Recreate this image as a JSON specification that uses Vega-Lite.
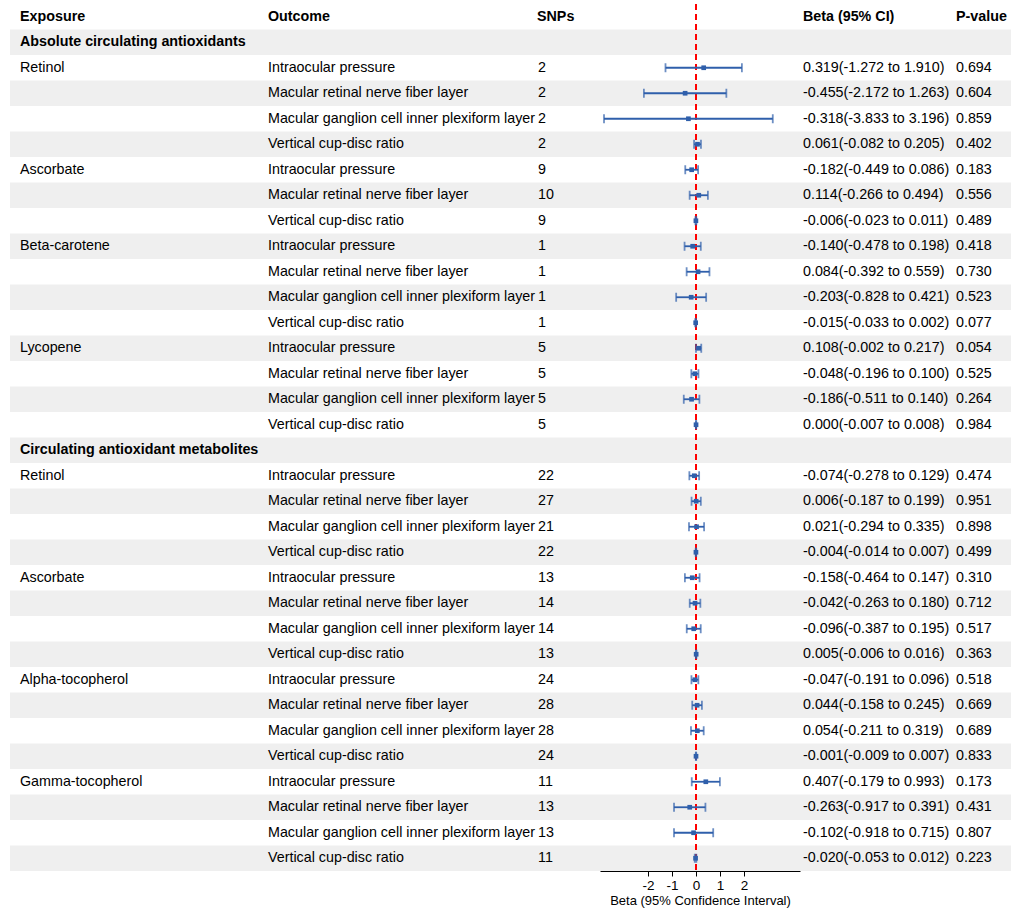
{
  "$schema": "https://vega.github.io/schema/vega-lite/v6.json",
  "padding": {"left": 10, "top": 3, "right": 0, "bottom": 0},
  "bounds": "flush",
  "config": {
    "view": {"stroke": null},
    "concat": {"spacing": 0},
    "font": "Liberation Sans",
    "text": {"fontSize": 14.3, "align": "left", "baseline": "middle", "color": "black"}
  },
  "datasets": {
    "rows": [
      {"i": 0, "b": 1, "e": "Exposure", "o": "Outcome", "n": "SNPs", "c": "Beta (95% CI)", "p": "P-value"},
      {"i": 1, "b": 1, "e": "Absolute circulating antioxidants", "o": "", "n": "", "c": "", "p": ""},
      {"i": 2, "b": 0, "e": "Retinol", "o": "Intraocular pressure", "n": "2", "beta": 0.319, "lo": -1.272, "hi": 1.910, "c": "0.319(-1.272 to 1.910)", "p": "0.694"},
      {"i": 3, "b": 0, "e": "", "o": "Macular retinal nerve fiber layer", "n": "2", "beta": -0.455, "lo": -2.172, "hi": 1.263, "c": "-0.455(-2.172 to 1.263)", "p": "0.604"},
      {"i": 4, "b": 0, "e": "", "o": "Macular ganglion cell inner plexiform layer", "n": "2", "beta": -0.318, "lo": -3.833, "hi": 3.196, "c": "-0.318(-3.833 to 3.196)", "p": "0.859"},
      {"i": 5, "b": 0, "e": "", "o": "Vertical cup-disc ratio", "n": "2", "beta": 0.061, "lo": -0.082, "hi": 0.205, "c": "0.061(-0.082 to 0.205)", "p": "0.402"},
      {"i": 6, "b": 0, "e": "Ascorbate", "o": "Intraocular pressure", "n": "9", "beta": -0.182, "lo": -0.449, "hi": 0.086, "c": "-0.182(-0.449 to 0.086)", "p": "0.183"},
      {"i": 7, "b": 0, "e": "", "o": "Macular retinal nerve fiber layer", "n": "10", "beta": 0.114, "lo": -0.266, "hi": 0.494, "c": "0.114(-0.266 to 0.494)", "p": "0.556"},
      {"i": 8, "b": 0, "e": "", "o": "Vertical cup-disc ratio", "n": "9", "beta": -0.006, "lo": -0.023, "hi": 0.011, "c": "-0.006(-0.023 to 0.011)", "p": "0.489"},
      {"i": 9, "b": 0, "e": "Beta-carotene", "o": "Intraocular pressure", "n": "1", "beta": -0.140, "lo": -0.478, "hi": 0.198, "c": "-0.140(-0.478 to 0.198)", "p": "0.418"},
      {"i": 10, "b": 0, "e": "", "o": "Macular retinal nerve fiber layer", "n": "1", "beta": 0.084, "lo": -0.392, "hi": 0.559, "c": "0.084(-0.392 to 0.559)", "p": "0.730"},
      {"i": 11, "b": 0, "e": "", "o": "Macular ganglion cell inner plexiform layer", "n": "1", "beta": -0.203, "lo": -0.828, "hi": 0.421, "c": "-0.203(-0.828 to 0.421)", "p": "0.523"},
      {"i": 12, "b": 0, "e": "", "o": "Vertical cup-disc ratio", "n": "1", "beta": -0.015, "lo": -0.033, "hi": 0.002, "c": "-0.015(-0.033 to 0.002)", "p": "0.077"},
      {"i": 13, "b": 0, "e": "Lycopene", "o": "Intraocular pressure", "n": "5", "beta": 0.108, "lo": -0.002, "hi": 0.217, "c": "0.108(-0.002 to 0.217)", "p": "0.054"},
      {"i": 14, "b": 0, "e": "", "o": "Macular retinal nerve fiber layer", "n": "5", "beta": -0.048, "lo": -0.196, "hi": 0.100, "c": "-0.048(-0.196 to 0.100)", "p": "0.525"},
      {"i": 15, "b": 0, "e": "", "o": "Macular ganglion cell inner plexiform layer", "n": "5", "beta": -0.186, "lo": -0.511, "hi": 0.140, "c": "-0.186(-0.511 to 0.140)", "p": "0.264"},
      {"i": 16, "b": 0, "e": "", "o": "Vertical cup-disc ratio", "n": "5", "beta": 0.000, "lo": -0.007, "hi": 0.008, "c": "0.000(-0.007 to 0.008)", "p": "0.984"},
      {"i": 17, "b": 1, "e": "Circulating antioxidant metabolites", "o": "", "n": "", "c": "", "p": ""},
      {"i": 18, "b": 0, "e": "Retinol", "o": "Intraocular pressure", "n": "22", "beta": -0.074, "lo": -0.278, "hi": 0.129, "c": "-0.074(-0.278 to 0.129)", "p": "0.474"},
      {"i": 19, "b": 0, "e": "", "o": "Macular retinal nerve fiber layer", "n": "27", "beta": 0.006, "lo": -0.187, "hi": 0.199, "c": "0.006(-0.187 to 0.199)", "p": "0.951"},
      {"i": 20, "b": 0, "e": "", "o": "Macular ganglion cell inner plexiform layer", "n": "21", "beta": 0.021, "lo": -0.294, "hi": 0.335, "c": "0.021(-0.294 to 0.335)", "p": "0.898"},
      {"i": 21, "b": 0, "e": "", "o": "Vertical cup-disc ratio", "n": "22", "beta": -0.004, "lo": -0.014, "hi": 0.007, "c": "-0.004(-0.014 to 0.007)", "p": "0.499"},
      {"i": 22, "b": 0, "e": "Ascorbate", "o": "Intraocular pressure", "n": "13", "beta": -0.158, "lo": -0.464, "hi": 0.147, "c": "-0.158(-0.464 to 0.147)", "p": "0.310"},
      {"i": 23, "b": 0, "e": "", "o": "Macular retinal nerve fiber layer", "n": "14", "beta": -0.042, "lo": -0.263, "hi": 0.180, "c": "-0.042(-0.263 to 0.180)", "p": "0.712"},
      {"i": 24, "b": 0, "e": "", "o": "Macular ganglion cell inner plexiform layer", "n": "14", "beta": -0.096, "lo": -0.387, "hi": 0.195, "c": "-0.096(-0.387 to 0.195)", "p": "0.517"},
      {"i": 25, "b": 0, "e": "", "o": "Vertical cup-disc ratio", "n": "13", "beta": 0.005, "lo": -0.006, "hi": 0.016, "c": "0.005(-0.006 to 0.016)", "p": "0.363"},
      {"i": 26, "b": 0, "e": "Alpha-tocopherol", "o": "Intraocular pressure", "n": "24", "beta": -0.047, "lo": -0.191, "hi": 0.096, "c": "-0.047(-0.191 to 0.096)", "p": "0.518"},
      {"i": 27, "b": 0, "e": "", "o": "Macular retinal nerve fiber layer", "n": "28", "beta": 0.044, "lo": -0.158, "hi": 0.245, "c": "0.044(-0.158 to 0.245)", "p": "0.669"},
      {"i": 28, "b": 0, "e": "", "o": "Macular ganglion cell inner plexiform layer", "n": "28", "beta": 0.054, "lo": -0.211, "hi": 0.319, "c": "0.054(-0.211 to 0.319)", "p": "0.689"},
      {"i": 29, "b": 0, "e": "", "o": "Vertical cup-disc ratio", "n": "24", "beta": -0.001, "lo": -0.009, "hi": 0.007, "c": "-0.001(-0.009 to 0.007)", "p": "0.833"},
      {"i": 30, "b": 0, "e": "Gamma-tocopherol", "o": "Intraocular pressure", "n": "11", "beta": 0.407, "lo": -0.179, "hi": 0.993, "c": "0.407(-0.179 to 0.993)", "p": "0.173"},
      {"i": 31, "b": 0, "e": "", "o": "Macular retinal nerve fiber layer", "n": "13", "beta": -0.263, "lo": -0.917, "hi": 0.391, "c": "-0.263(-0.917 to 0.391)", "p": "0.431"},
      {"i": 32, "b": 0, "e": "", "o": "Macular ganglion cell inner plexiform layer", "n": "13", "beta": -0.102, "lo": -0.918, "hi": 0.715, "c": "-0.102(-0.918 to 0.715)", "p": "0.807"},
      {"i": 33, "b": 0, "e": "", "o": "Vertical cup-disc ratio", "n": "11", "beta": -0.020, "lo": -0.053, "hi": 0.012, "c": "-0.020(-0.053 to 0.012)", "p": "0.223"}
    ]
  },
  "data": {"name": "rows"},
  "hconcat": [
    {
      "width": 250, "height": 867,
      "encoding": {"y": {"field": "i", "type": "ordinal", "axis": null, "scale": {"paddingInner": 0, "paddingOuter": 0}}},
      "layer": [
        {"transform": [{"filter": "datum.i % 2 == 1"}], "mark": {"type": "rect", "color": "#efefef"}},
        {"transform": [{"filter": "datum.b == 1"}], "mark": {"type": "text", "dx": 10, "fontWeight": "bold"}, "encoding": {"x": {"value": 0}, "text": {"field": "e"}}},
        {"transform": [{"filter": "datum.b == 0"}], "mark": {"type": "text", "dx": 10}, "encoding": {"x": {"value": 0}, "text": {"field": "e"}}}
      ]
    },
    {
      "width": 278, "height": 867,
      "encoding": {"y": {"field": "i", "type": "ordinal", "axis": null, "scale": {"paddingInner": 0, "paddingOuter": 0}}},
      "layer": [
        {"transform": [{"filter": "datum.i % 2 == 1"}], "mark": {"type": "rect", "color": "#efefef"}},
        {"transform": [{"filter": "datum.b == 1"}], "mark": {"type": "text", "dx": 8, "fontWeight": "bold"}, "encoding": {"x": {"value": 0}, "text": {"field": "o"}}},
        {"transform": [{"filter": "datum.b == 0"}], "mark": {"type": "text", "dx": 8}, "encoding": {"x": {"value": 0}, "text": {"field": "o"}}}
      ]
    },
    {
      "width": 62, "height": 867,
      "encoding": {"y": {"field": "i", "type": "ordinal", "axis": null, "scale": {"paddingInner": 0, "paddingOuter": 0}}},
      "layer": [
        {"transform": [{"filter": "datum.i % 2 == 1"}], "mark": {"type": "rect", "color": "#efefef"}},
        {"transform": [{"filter": "datum.b == 1"}], "mark": {"type": "text", "dx": -1, "fontWeight": "bold"}, "encoding": {"x": {"value": 0}, "text": {"field": "n"}}},
        {"transform": [{"filter": "datum.b == 0"}], "mark": {"type": "text", "dx": 0}, "encoding": {"x": {"value": 0}, "text": {"field": "n"}}}
      ]
    },
    {
      "width": 200, "height": 867,
      "encoding": {"y": {"field": "i", "type": "ordinal", "axis": null, "scale": {"domain": [0,1,2,3,4,5,6,7,8,9,10,11,12,13,14,15,16,17,18,19,20,21,22,23,24,25,26,27,28,29,30,31,32,33], "paddingInner": 0, "paddingOuter": 0}}},
      "layer": [
        {"transform": [{"filter": "datum.i % 2 == 1"}], "mark": {"type": "rect", "color": "#efefef"}},
        {"mark": {"type": "rule", "color": "red", "strokeDash": [6, 4], "strokeWidth": 1.5},
         "encoding": {"y": null, "x": {"datum": 0, "type": "quantitative"}}},
        {"transform": [{"filter": "datum.b == 0"}], "mark": {"type": "rule", "color": "#2f5fab", "strokeWidth": 1.8},
         "encoding": {"x": {"field": "lo", "type": "quantitative"}, "x2": {"field": "hi"}}},
        {"transform": [{"filter": "datum.b == 0"}], "mark": {"type": "tick", "color": "#2f5fab", "orient": "vertical", "size": 9, "thickness": 1.8},
         "encoding": {"x": {"field": "lo", "type": "quantitative"}}},
        {"transform": [{"filter": "datum.b == 0"}], "mark": {"type": "tick", "color": "#2f5fab", "orient": "vertical", "size": 9, "thickness": 1.8},
         "encoding": {"x": {"field": "hi", "type": "quantitative"}}},
        {"transform": [{"filter": "datum.b == 0"}], "mark": {"type": "square", "color": "#2f5fab", "filled": true, "opacity": 1, "size": 22},
         "encoding": {"x": {"field": "beta", "type": "quantitative",
           "scale": {"domain": [-4, 4.33], "nice": false, "zero": false},
           "axis": {"values": [-2, -1, 0, 1, 2], "labelExpr": "replace(datum.label, '−', '-')", "grid": false, "title": "Beta (95% Confidence Interval)", "titleFontWeight": "normal", "titleFontSize": 13, "labelFontSize": 13.5, "domainColor": "black", "tickColor": "black", "labelColor": "black", "titleColor": "black", "titlePadding": 3}}}}
      ]
    },
    {
      "width": 150, "height": 867,
      "encoding": {"y": {"field": "i", "type": "ordinal", "axis": null, "scale": {"paddingInner": 0, "paddingOuter": 0}}},
      "layer": [
        {"transform": [{"filter": "datum.i % 2 == 1"}], "mark": {"type": "rect", "color": "#efefef"}},
        {"transform": [{"filter": "datum.b == 1"}], "mark": {"type": "text", "dx": 3, "fontWeight": "bold"}, "encoding": {"x": {"value": 0}, "text": {"field": "c"}}},
        {"transform": [{"filter": "datum.b == 0"}], "mark": {"type": "text", "dx": 3}, "encoding": {"x": {"value": 0}, "text": {"field": "c"}}}
      ]
    },
    {
      "width": 61, "height": 867,
      "encoding": {"y": {"field": "i", "type": "ordinal", "axis": null, "scale": {"paddingInner": 0, "paddingOuter": 0}}},
      "layer": [
        {"transform": [{"filter": "datum.i % 2 == 1"}], "mark": {"type": "rect", "color": "#efefef"}},
        {"transform": [{"filter": "datum.b == 1"}], "mark": {"type": "text", "dx": 6, "fontWeight": "bold"}, "encoding": {"x": {"value": 0}, "text": {"field": "p"}}},
        {"transform": [{"filter": "datum.b == 0"}], "mark": {"type": "text", "dx": 6}, "encoding": {"x": {"value": 0}, "text": {"field": "p"}}}
      ]
    }
  ]
}
